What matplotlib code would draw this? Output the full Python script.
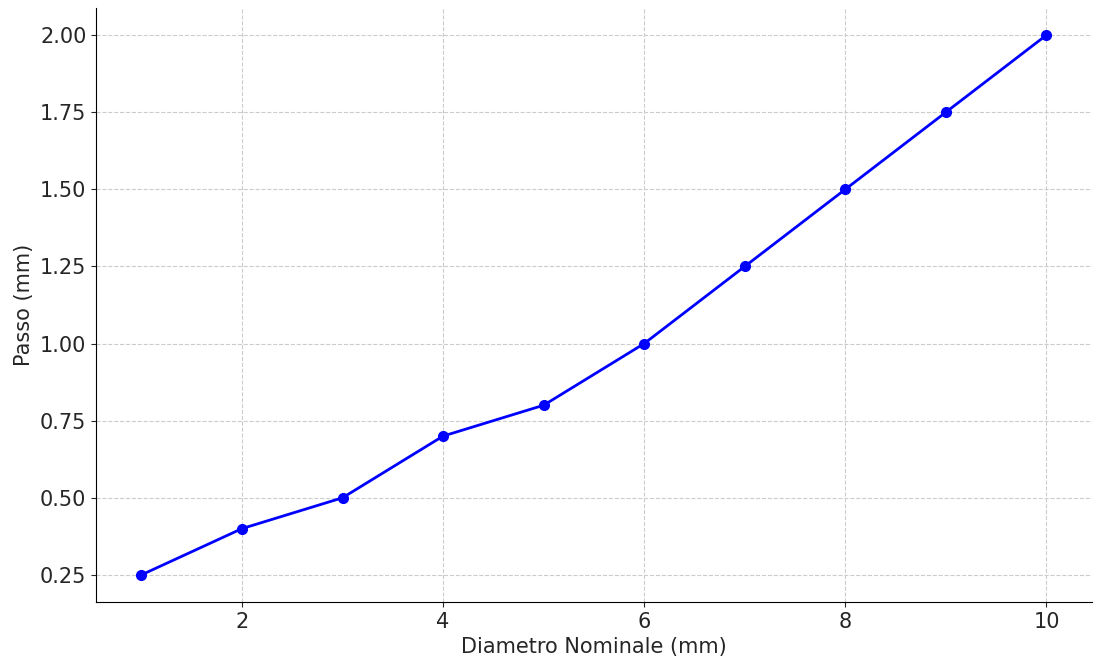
import matplotlib.pyplot as plt

diametro = [1, 2, 3, 4, 5, 6, 7, 8, 9, 10]
passo = [0.25, 0.40, 0.50, 0.70, 0.80, 1.00, 1.25, 1.50, 1.75, 2.00]

fig = plt.figure(figsize=(11.05, 6.71), dpi=100)
ax = fig.add_axes([0.087, 0.103, 0.901, 0.885])

ax.plot(diametro, passo, color='blue', marker='o', markersize=7, linewidth=2)

ax.set_xlabel('Diametro Nominale (mm)', fontsize=15, color='#262626')
ax.set_ylabel('Passo (mm)', fontsize=15, color='#262626')
ax.set_xticks([2, 4, 6, 8, 10])
ax.set_yticks([0.25, 0.5, 0.75, 1.0, 1.25, 1.5, 1.75, 2.0])
ax.yaxis.set_major_formatter(plt.FormatStrFormatter('%.2f'))
ax.tick_params(labelsize=15, colors='#262626')
ax.grid(True, linestyle='--', color='#cccccc', linewidth=0.8)
ax.spines['top'].set_visible(False)
ax.spines['right'].set_visible(False)

fig.savefig('out.png', dpi=100)
